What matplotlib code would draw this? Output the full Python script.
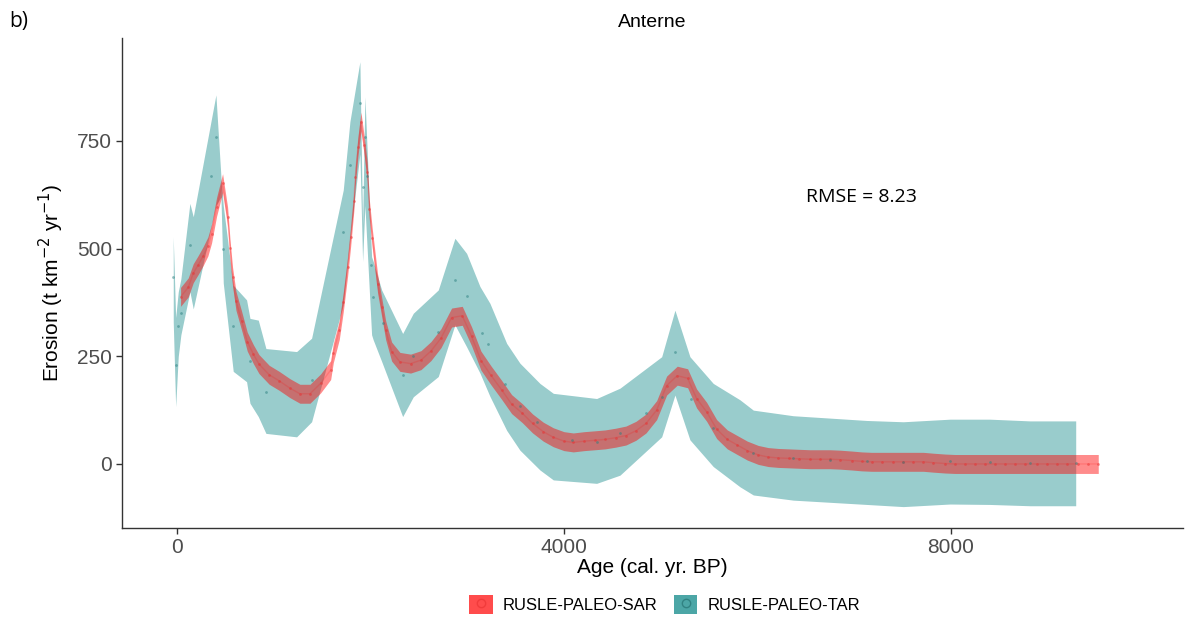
import matplotlib
matplotlib.use("Agg")
import matplotlib.pyplot as plt
import numpy as np
from matplotlib.patches import Patch
from matplotlib.lines import Line2D

# RUSLE-PALEO-SAR (red): age, erosion
sar_age = [38, 117, 169, 220, 272, 320, 358, 410, 472, 524, 548, 575, 610, 668,
           727, 790, 848, 954, 1057, 1168, 1271, 1375, 1485, 1589, 1616, 1678,
           1719, 1764, 1795, 1829, 1843, 1870, 1902, 1935, 1967, 1988, 2019,
           2074, 2116, 2157, 2219, 2305, 2415, 2522, 2625, 2729, 2839, 2949,
           3046, 3142, 3245, 3356, 3459, 3569, 3676, 3786, 3890, 4000, 4096,
           4210, 4320, 4424, 4534, 4641, 4744, 4848, 4958, 5061, 5171, 5278,
           5371, 5475, 5578, 5688, 5791, 5895, 6008, 6112, 6215, 6325, 6432,
           6543, 6646, 6749, 6853, 6974, 7077, 7180, 7284, 7404, 7507, 7610,
           7714, 7817, 7938, 8041, 8145, 8248, 8351, 8455, 8558, 8661, 8765,
           8885, 8988, 9092, 9195, 9316, 9419, 9522]
sar_val = [388, 410, 443, 462, 483, 505, 535, 597, 652, 574, 501, 435, 379, 333,
           284, 255, 232, 207, 193, 176, 163, 163, 187, 218, 257, 311,
           375, 458, 526, 611, 667, 735, 795, 740, 679, 593, 524,
           419, 365, 311, 261, 237, 233, 241, 262, 292, 340, 344,
           296, 240, 206, 172, 139, 118, 94, 75, 62, 53, 50,
           53, 55, 57, 61, 66, 77, 94, 125, 182, 205, 199,
           152, 121, 81, 57, 44, 31, 21, 16, 14, 13, 12,
           11, 11, 11, 10, 8, 6, 5, 5, 5, 5, 5,
           5, 3, 1, 0, 0, 0, 0, 0, 0, 0, 0,
           0, 0, 0, 0, 0, 0, 0]
sar_halfwidth = 22

# RUSLE-PALEO-TAR (teal): ribbon vertices
tar_band_age = [-38, -13, 14, 41, 134, 169, 403, 455, 479, 582, 720, 755, 841,
                920, 1237, 1392, 1719, 1788, 1891, 1919, 1943, 2012, 2029, 2116,
                2333, 2443, 2701, 2873, 2994, 3132, 3235, 3408, 3545, 3752, 3890,
                4338, 4579, 5010, 5147, 5302, 5543, 5819, 5957, 6370, 7129, 7507,
                7990, 8403, 8817, 9289]
tar_lo = [330, 133, 250, 300, 400, 360, 600, 620, 420, 215, 191, 141, 110,
          71, 63, 98, 370, 520, 720, 470, 600, 300, 288, 238,
          110, 156, 203, 323, 272, 211, 157, 78, 32, -14, -37,
          -45, -26, 63, 160, 56, -6, -53, -72, -84, -94, -99,
          -93, -94, -97, -97]
tar_hi = [528, 340, 400, 430, 605, 574, 857, 667, 600, 415, 381, 338, 334,
          268, 261, 292, 636, 795, 934, 555, 853, 481, 470, 404,
          303, 350, 404, 524, 489, 412, 373, 280, 234, 187, 164,
          152, 176, 249, 357, 249, 187, 149, 125, 112, 101, 98,
          104, 104, 100, 100]

# RUSLE-PALEO-TAR points
tar_age = [-38, -13, 14, 41, 134, 348, 403, 479, 582, 755, 920, 1392, 1719,
           1788, 1891, 1926, 1946, 1967, 2002, 2029, 2133, 2333, 2443, 2701,
           2873, 2994, 3149, 3218, 3390, 3545, 3718, 4079, 4338, 4579, 4848,
           5010, 5147, 5309, 5543, 5957, 6370, 6750, 7129, 7507, 7990, 8403,
           8817, 9289]
tar_val = [435, 230, 320, 351, 509, 669, 758, 500, 320, 239, 168, 195, 539,
           694, 839, 644, 760, 668, 462, 387, 327, 207, 251, 307,
           427, 390, 303, 278, 186, 135, 98, 56, 50, 73, 118,
           155, 261, 152, 83, 25, 13, 9, 6, 5, 6, 4,
           3, 2]

x_ticks = [0, 4000, 8000]
y_ticks = [0, 250, 500, 750]

plt.rcParams["font.family"] = ["Liberation Sans", "DejaVu Sans"]

fig = plt.figure(figsize=(11.91, 6.21), dpi=100)
ax = fig.add_axes([0.1024, 0.1498, 0.8909, 0.789])

teal = "#008080"
red = "#FF0000"

ax.fill_between(tar_band_age, tar_lo, tar_hi, color=teal, alpha=0.4, lw=0, zorder=1)

sar_a = np.array(sar_age)
sar_v = np.array(sar_val)
ax.fill_between(sar_a, sar_v - sar_halfwidth, sar_v + sar_halfwidth,
                color=red, alpha=0.45, lw=0, zorder=2)
ax.plot(sar_a, sar_v, color=red, alpha=0.15, lw=1, zorder=3)

ax.scatter(sar_age, sar_val, s=4, color="#E83030", alpha=0.5, lw=0, zorder=4)
ax.scatter(tar_age, tar_val, s=4, color="#2A7F7F", alpha=0.5, lw=0, zorder=4)

ax.set_xlim(-568, 10398)
ax.set_ylim(-148.6, 989)
ax.set_xticks(x_ticks)
ax.set_yticks(y_ticks)

for s in ["top", "right"]:
    ax.spines[s].set_visible(False)
for s in ["left", "bottom"]:
    ax.spines[s].set_color("#333333")
    ax.spines[s].set_linewidth(1.0)
ax.tick_params(length=4, width=1, color="#333333", labelcolor="#4D4D4D",
               labelsize=15, pad=3)

ax.set_xlabel("Age (cal. yr. BP)", fontsize=15, color="black", labelpad=1)
ax.set_ylabel("Erosion (t km$^{-2}$ yr$^{-1}$)", fontsize=15, color="black", labelpad=8)
ax.set_title("Anterne", fontsize=14, pad=8)

ax.text(6500, 620, "RMSE = 8.23", fontsize=14, family=["Open Sans", "DejaVu Sans"],
        ha="left", va="center")
fig.text(0.008, 0.965, "b)", fontsize=15, family=["Open Sans", "DejaVu Sans"],
         ha="left", va="center")

handles = [
    (Patch(facecolor=red, alpha=0.7, lw=0),
     Line2D([], [], marker="o", ls="", markersize=6, markerfacecolor="none",
            markeredgecolor="#E83030", alpha=0.6)),
    (Patch(facecolor=teal, alpha=0.7, lw=0),
     Line2D([], [], marker="o", ls="", markersize=6, markerfacecolor="none",
            markeredgecolor="#1F6B6B", alpha=0.6)),
]
fig.legend(handles, ["RUSLE-PALEO-SAR", "RUSLE-PALEO-TAR"], loc="center",
           bbox_to_anchor=(0.558, 0.026), ncol=2, frameon=False, fontsize=12,
           handlelength=1.4, handleheight=1.4, columnspacing=1.0, handletextpad=0.6)

fig.savefig("out.png", dpi=100)
